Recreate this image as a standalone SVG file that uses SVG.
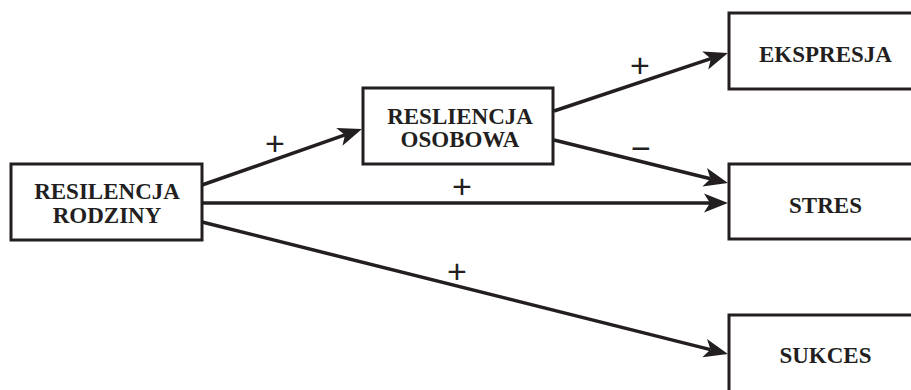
<svg xmlns="http://www.w3.org/2000/svg" width="911" height="390" viewBox="0 0 911 390">
  <style>
    .box { fill: #ffffff; stroke: #231f20; stroke-width: 3; }
    .lbl { font-family: "Liberation Serif", "Times New Roman", serif; font-weight: bold; font-size: 23px; fill: #231f20; text-anchor: middle; }
    .edge { fill: none; stroke: #231f20; stroke-width: 3.5; }
    .sign { font-family: "Liberation Sans", Arial, sans-serif; font-size: 34px; fill: #231f20; text-anchor: middle; }
  </style>
  <defs>
    <marker id="arrow" markerUnits="userSpaceOnUse" markerWidth="30" markerHeight="24" viewBox="-8 -12 30 24" refX="0" refY="0" orient="auto" overflow="visible">
      <path d="M18,0 L-6,-9.5 L0,0 L-6,9.5 Z" fill="#231f20"/>
    </marker>
  </defs>
  <rect width="911" height="390" fill="#ffffff"/>

  <g id="connectors">
    <path class="edge" d="M202,185 L345,134.9" marker-end="url(#arrow)"/>
    <path class="edge" d="M202,203 L710,203" marker-end="url(#arrow)"/>
    <path class="edge" d="M202,222 L710.5,349.6" marker-end="url(#arrow)"/>
    <path class="edge" d="M554,111 L710.9,58.7" marker-end="url(#arrow)"/>
    <path class="edge" d="M554,140 L710.5,178.7" marker-end="url(#arrow)"/>
    <text class="sign" x="275" y="155">+</text>
    <text class="sign" x="640" y="77">+</text>
    <text class="sign" x="641" y="160">−</text>
    <text class="sign" x="462" y="198">+</text>
    <text class="sign" x="457" y="283">+</text>
  </g>

  <g id="resilencja-rodziny">
    <rect class="box" x="11" y="164" width="191" height="76"/>
    <text class="lbl" x="107" y="199">RESILENCJA</text>
    <text class="lbl" x="107" y="223">RODZINY</text>
  </g>

  <g id="resliencja-osobowa">
    <rect class="box" x="363" y="88" width="190" height="76"/>
    <text class="lbl" x="460" y="124">RESLIENCJA</text>
    <text class="lbl" x="460" y="147">OSOBOWA</text>
  </g>

  <g id="ekspresja">
    <rect class="box" x="729" y="13" width="193" height="76"/>
    <text class="lbl" x="825.5" y="62">EKSPRESJA</text>
  </g>

  <g id="stres">
    <rect class="box" x="729" y="164" width="193" height="75"/>
    <text class="lbl" x="825.5" y="213">STRES</text>
  </g>

  <g id="sukces">
    <rect class="box" x="729" y="315" width="193" height="80"/>
    <text class="lbl" x="825.5" y="363">SUKCES</text>
  </g>
</svg>
